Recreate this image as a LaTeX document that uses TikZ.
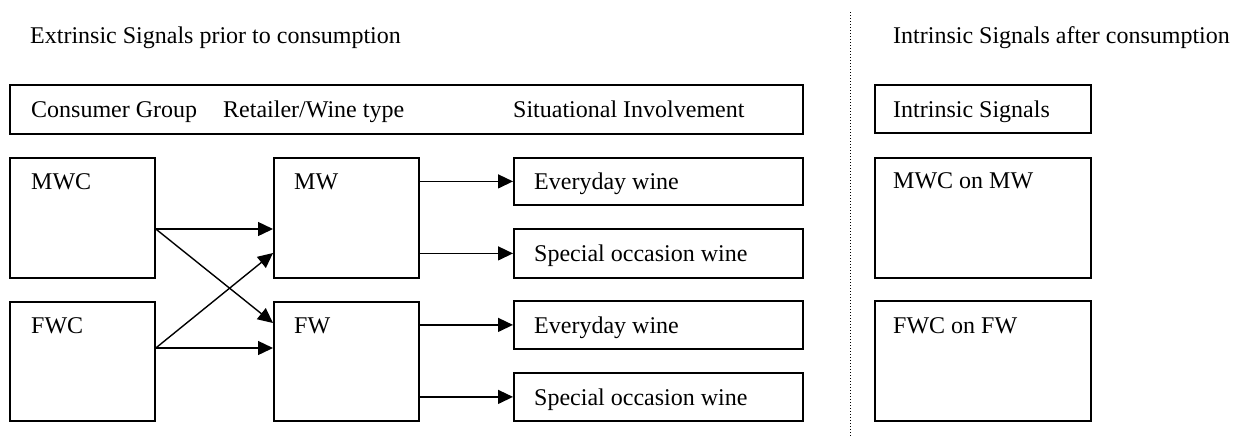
\documentclass[tikz,border=0pt]{standalone}
\usepackage{fontspec}
\setmainfont{Liberation Serif}
\usetikzlibrary{arrows.meta}
\begin{document}
\begin{tikzpicture}[x=1pt,y=-1pt,
  font=\fontsize{24}{28}\selectfont,
  boxshape/.style={draw,line width=1.8pt,inner sep=0pt},
  lbl/.style={anchor=base west,inner sep=0pt},
  arr/.style={line width=1.4pt,-{Triangle[length=15pt,width=14pt]}}]
\useasboundingbox (0,0) rectangle (1241,437);
% titles
\node[lbl] (t1) at (30,43) {Extrinsic Signals prior to consumption};
\node[lbl] (t2) at (893,43) {Intrinsic Signals after consumption};
% dotted divider
\coordinate (dtop) at (850,12);
\coordinate (dbot) at (850,437);
\draw[dotted,line width=1pt] (dtop) -- (dbot);
% header box
\node[boxshape,minimum width=793pt,minimum height=49pt,anchor=north west] (hdr) at (9,84) {};
\node[lbl] (h1) at (31,117) {Consumer Group};
\node[lbl] (h2) at (223,117) {Retailer/Wine type};
\node[lbl] (h3) at (513,117) {Situational Involvement};
% consumer group
\node[boxshape,minimum width=145pt,minimum height=120pt,anchor=north west] (mwc) at (9,157) {};
\node[lbl] (mwcT) at (31,189) {MWC};
\node[boxshape,minimum width=145pt,minimum height=119pt,anchor=north west] (fwc) at (9,301) {};
\node[lbl] (fwcT) at (31,333) {FWC};
% retailer
\node[boxshape,minimum width=145pt,minimum height=120pt,anchor=north west] (mw) at (273,157) {};
\node[lbl] (mwT) at (294,189) {MW};
\node[boxshape,minimum width=145pt,minimum height=119pt,anchor=north west] (fw) at (273,301) {};
\node[lbl] (fwT) at (294,333) {FW};
% situational
\node[boxshape,minimum width=289pt,minimum height=47pt,anchor=north west] (ev1) at (513,157) {};
\node[lbl] (ev1T) at (534,189) {Everyday wine};
\node[boxshape,minimum width=289pt,minimum height=49pt,anchor=north west] (sp1) at (513,228) {};
\node[lbl] (sp1T) at (534,261) {Special occasion wine};
\node[boxshape,minimum width=289pt,minimum height=48pt,anchor=north west] (ev2) at (513,300) {};
\node[lbl] (ev2T) at (534,333) {Everyday wine};
\node[boxshape,minimum width=289pt,minimum height=48pt,anchor=north west] (sp2) at (513,372) {};
\node[lbl] (sp2T) at (534,405) {Special occasion wine};
% intrinsic
\node[boxshape,minimum width=216pt,minimum height=48pt,anchor=north west] (ins) at (874,84) {};
\node[lbl] (insT) at (893,117) {Intrinsic Signals};
\node[boxshape,minimum width=216pt,minimum height=120pt,anchor=north west] (mom) at (874,157) {};
\node[lbl] (momT) at (893,188) {MWC on MW};
\node[boxshape,minimum width=216pt,minimum height=120pt,anchor=north west] (fof) at (874,300) {};
\node[lbl] (fofT) at (893,333) {FWC on FW};
% arrows consumer -> retailer
\draw[arr] (mwc.east |- 0,229) -- (mw.west |- 0,229);
\draw[arr] (mwc.east |- 0,229) -- (fw.west |- 0,323);
\draw[arr] (fwc.east |- 0,348) -- (mw.west |- 0,253);
\draw[arr] (fwc.east |- 0,348) -- (fw.west |- 0,348);
% arrows retailer -> situational
\draw[arr] (mw.east |- ev1.west) -- (ev1.west);
\draw[arr] (mw.east |- sp1.west) -- (sp1.west);
\draw[arr] (fw.east |- ev2.west) -- (ev2.west);
\draw[arr] (fw.east |- sp2.west) -- (sp2.west);
\end{tikzpicture}
\end{document}
